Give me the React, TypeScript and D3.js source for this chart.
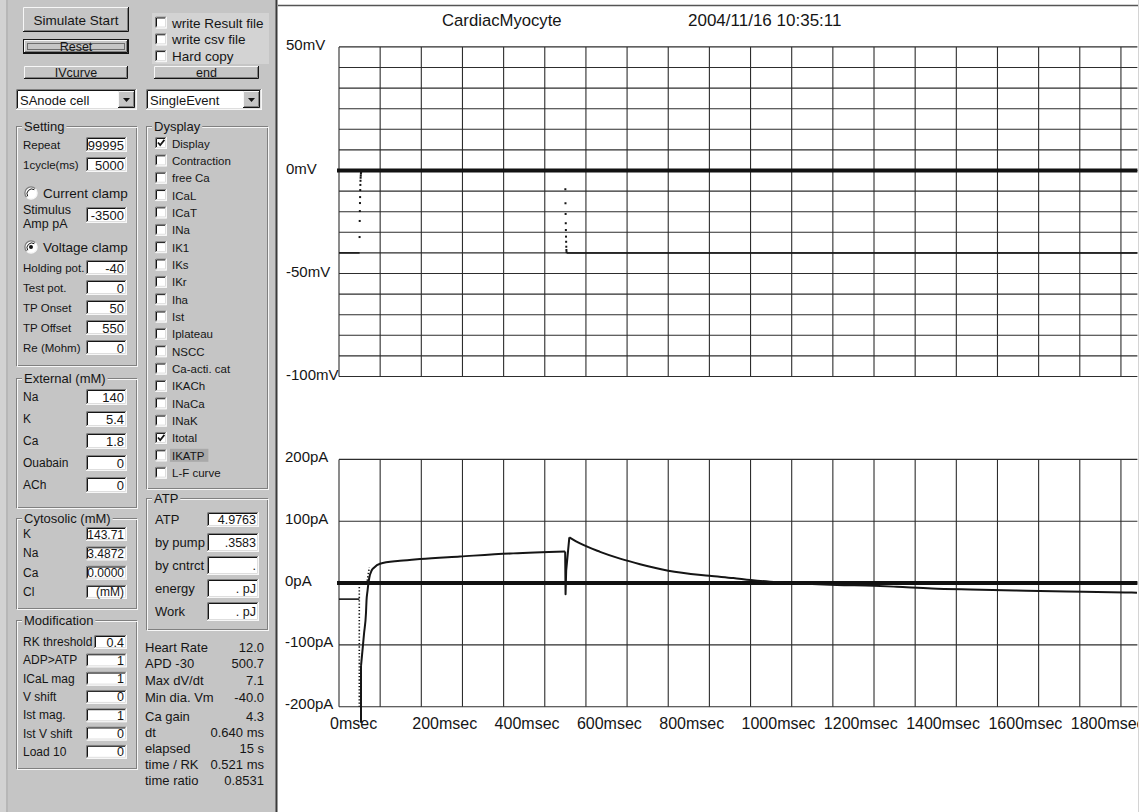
import React from "react";
import * as d3 from "d3";

const FONT = "'Liberation Sans', Arial, Helvetica, sans-serif";
const PANEL = "#c5c5c5";
const HILITE = "#f7f7f7";
const SHADE = "#808080";
const INK = "#151515";

// ---- voltage-clamp protocol ----
const holdingPotential = -40; // mV
const testPotential = 0; // mV
const pulseOnset = 50; // ms
const pulseOffset = 550; // ms
const timeStep = 0.64; // ms

// Membrane potential at successive time steps after each clamp step (mV)
const onsetVm = [-32.3, -24.5, -19.7, -15.8, -12.9, -9.5, -7, -5, -3.5, -2.5, -1.5, -1, -0.5];
const offsetVm = [-9.1, -15.9, -21.1, -25.6, -28.9, -32.1, -34.6, -37, -38.6, -39.6];

// Itotal (pA) at the holding potential
const restTime = [0, 49.5];
const restCurrent = [-26, -26];
// Fast inward transient, drawn as sampled points
const transientTime = [49.3, 49.3];
const transientCurrent = [-1, -200];
const recoveryTime = [68.8, 73.6];
const recoveryCurrent = [3.7, 25.2];
// Peak of the inward current
const spikeTime = [53.5, 53.5];
const spikeCurrent = [-226, -134];
// Recovery and slow outward current during the test pulse
const activationTime = [53.5, 58.3, 60.8, 65.6, 66.8, 69.3, 73.6, 79, 85, 99.6, 148, 197, 294, 423, 549.5];
const activationCurrent = [-134, -100, -82, -48, -29, -12.5, 8.6, 19.9, 24.8, 31.3, 36, 39, 43, 48, 51];
// Step back to the holding potential
const offsetTime = [549.5, 550.5, 552, 559.7];
const offsetCurrent = [51, -18, 20, 74];
// Tail current
const tailTime = [559.7, 585.7, 634.3, 682.9, 731.5, 800.2, 899.9, 958.2, 1000.5, 1047.4, 1096,
  1209.5, 1299.4, 1355.3, 1440.3, 1533.4, 1642.8, 1768.4, 1910.1, 1939];
const tailCurrent = [74, 64, 50.5, 39.5, 30.5, 20, 11.8, 8.1, 4.9, 2.1, 0,
  -3.2, -4.4, -6, -8.7, -10.4, -12, -13.6, -15.2, -15.7];

// ---- axes ----
const timeLabelsAt = [0, 200, 400, 600, 800, 1000, 1200, 1400, 1600, 1800];
const voltageLabels = ["50mV", "0mV", "-50mV", "-100mV"];
const voltageLabelAt = [60, 0, -50, -100];
const currentLabels = ["200pA", "100pA", "0pA", "-100pA", "-200pA"];
const currentLabelAt = [200, 100, 0, -100, -200];

// ---- control panel contents ----
const runChecks = ["write Result file", "write csv file", "Hard copy"];
const settingTop = [["Repeat", "99995"], ["1cycle(ms)", "5000"]];
const clampRows = [
  ["Holding pot.", String(holdingPotential)],
  ["Test pot.", String(testPotential)],
  ["TP Onset", String(pulseOnset)],
  ["TP Offset", String(pulseOffset)],
  ["Re (Mohm)", "0"],
];
const externalRows = [["Na", "140"], ["K", "5.4"], ["Ca", "1.8"], ["Ouabain", "0"], ["ACh", "0"]];
const cytosolicRows = [["K", "143.71"], ["Na", "3.4872"], ["Ca", "0.0000"], ["Cl", "(mM)"]];
const modificationRows = [["RK threshold", "0.4"], ["ADP>ATP", "1"], ["ICaL mag", "1"], ["V shift", "0"],
  ["Ist mag.", "1"], ["Ist V shift", "0"], ["Load 10", "0"]];
const displayItems = ["Display", "Contraction", "free Ca", "ICaL", "ICaT", "INa", "IK1", "IKs", "IKr", "Iha",
  "Ist", "Iplateau", "NSCC", "Ca-acti. cat", "IKACh", "INaCa", "INaK", "Itotal", "IKATP", "L-F curve"];
const displayChecked = ["Display", "Itotal"];
const displaySelected = "IKATP";
const atpRows = [["by pump", ".3583"], ["by cntrct", "."], ["energy", ". pJ"], ["Work", ". pJ"]];
const statsA = [["Heart Rate", "12.0"], ["APD -30", "500.7"], ["Max dV/dt", "7.1"], ["Min dia. Vm", "-40.0"]];
const statsB = [["Ca gain", "4.3"], ["dt", timeStep.toFixed(3) + " ms"], ["elapsed", "15 s"],
  ["time / RK", "0.521 ms"], ["time ratio", "0.8531"]];

let measureCtx: CanvasRenderingContext2D | null = null;
function textWidth(s: string, size: number) {
  if (!measureCtx && typeof document !== "undefined") {
    measureCtx = document.createElement("canvas").getContext("2d");
  }
  if (!measureCtx) return s.length * size * 0.55;
  measureCtx.font = `${size}px ${FONT}`;
  return measureCtx.measureText(s).width;
}

function Raised({ x, y, w, h }: { x: number; y: number; w: number; h: number }) {
  return (
    <g>
      <rect x={x} y={y} width={w} height={h} fill={PANEL} />
      <path d={`M${x + 0.5} ${y + h - 1} V${y + 0.5} H${x + w - 1}`} stroke={HILITE} fill="none" />
      <path d={`M${x} ${y + h - 0.5} H${x + w - 0.5} V${y}`} stroke={INK} fill="none" />
      <path d={`M${x + 1} ${y + h - 1.5} H${x + w - 1.5} V${y + 1}`} stroke={SHADE} fill="none" />
    </g>
  );
}

function Sunken({ x, y, w, h, fill = "#fff" }: { x: number; y: number; w: number; h: number; fill?: string }) {
  return (
    <g>
      <rect x={x} y={y} width={w} height={h} fill={fill} />
      <path d={`M${x + 0.5} ${y + h} V${y + 0.5} H${x + w}`} stroke={SHADE} fill="none" />
      <path d={`M${x + 1.5} ${y + h - 1} V${y + 1.5} H${x + w - 1}`} stroke={INK} fill="none" />
      <path d={`M${x} ${y + h - 0.5} H${x + w - 0.5} V${y}`} stroke={HILITE} fill="none" />
      <path d={`M${x + 1} ${y + h - 1.5} H${x + w - 1.5} V${y + 1}`} stroke="#dedede" fill="none" />
    </g>
  );
}

function Field({ x, y, w, h, text, size = 12.5 }: { x: number; y: number; w: number; h: number; text: string; size?: number }) {
  return (
    <g>
      <Sunken x={x} y={y} w={w} h={h} />
      <text x={x + w - 3} y={y + h / 2 + 0.5} textAnchor="end" dominantBaseline="central" fontSize={size} fill={INK}>
        {text}
      </text>
    </g>
  );
}

function Button({ x, y, w, h, label, size = 13, isDefault = false }: {
  x: number; y: number; w: number; h: number; label: string; size?: number; isDefault?: boolean;
}) {
  return (
    <g>
      {isDefault && <rect x={x - 0.5} y={y - 0.5} width={w + 1} height={h + 1} fill="none" stroke={INK} />}
      <Raised x={x} y={y} w={w} h={h} />
      <text x={x + w / 2} y={y + h / 2 + 0.5} textAnchor="middle" dominantBaseline="central" fontSize={size} fill={INK}>
        {label}
      </text>
      {isDefault && (
        <rect x={x + 3.5} y={y + 3.5} width={w - 7} height={h - 7} fill="none" stroke={INK} strokeDasharray="1 1" />
      )}
    </g>
  );
}

function CheckBox({ x, cy, label, checked = false, size = 11.5, selected = false }: {
  x: number; cy: number; label: string; checked?: boolean; size?: number; selected?: boolean;
}) {
  const y = cy - 6;
  const tw = textWidth(label, size);
  return (
    <g>
      {selected && <rect x={x + 15} y={cy - 6.5} width={tw + 6} height={13} fill="#a9a9a9" />}
      <Sunken x={x} y={y} w={12} h={12} />
      {checked && (
        <path d={`M${x + 3} ${y + 5.5} l2.2 2.6 l4.2 -5.2`} stroke={INK} strokeWidth={1.7} fill="none" />
      )}
      <text x={x + 17} y={cy + 0.5} dominantBaseline="central" fontSize={size} fill={INK}>
        {label}
      </text>
    </g>
  );
}

function Radio({ cx, cy, label, on }: { cx: number; cy: number; label: string; on: boolean }) {
  const r = 6;
  return (
    <g>
      <circle cx={cx} cy={cy} r={r} fill="#fff" />
      <path d={`M${cx + r * 0.72} ${cy - r * 0.72} A${r} ${r} 0 0 0 ${cx - r * 0.72} ${cy + r * 0.72}`} stroke={SHADE} strokeWidth={1.3} fill="none" />
      <path d={`M${cx + r * 0.55} ${cy - r * 0.55} A${r - 1.2} ${r - 1.2} 0 0 0 ${cx - r * 0.55} ${cy + r * 0.55}`} stroke={INK} strokeWidth={1} fill="none" />
      <path d={`M${cx + r * 0.72} ${cy - r * 0.72} A${r} ${r} 0 0 1 ${cx - r * 0.72} ${cy + r * 0.72}`} stroke={HILITE} strokeWidth={1.3} fill="none" />
      {on && <circle cx={cx} cy={cy} r={2} fill={INK} />}
      <text x={cx + 12} y={cy + 0.5} dominantBaseline="central" fontSize={13.5} fill={INK}>
        {label}
      </text>
    </g>
  );
}

function Combo({ x, y, w, h, text }: { x: number; y: number; w: number; h: number; text: string }) {
  const bx = x + w - 19;
  return (
    <g>
      <Sunken x={x} y={y} w={w} h={h} />
      <text x={x + 4} y={y + h / 2 + 0.5} dominantBaseline="central" fontSize={13} fill={INK}>
        {text}
      </text>
      <Raised x={bx} y={y + 2} w={17} h={h - 4} />
      <path d={`M${bx + 5} ${y + h / 2 - 1.5} h7 l-3.5 4 z`} fill={INK} />
    </g>
  );
}

function Group({ x, y, w, h, label }: { x: number; y: number; w: number; h: number; label: string }) {
  const tw = textWidth(label, 13);
  return (
    <g>
      <rect x={x + 0.5} y={y + 0.5} width={w - 1} height={h - 1} fill="none" stroke={SHADE} />
      <rect x={x + 1.5} y={y + 1.5} width={w - 1} height={h - 1} fill="none" stroke={HILITE} />
      <rect x={x + 6} y={y - 6} width={tw + 4} height={13} fill={PANEL} />
      <text x={x + 8} y={y + 0.5} dominantBaseline="central" fontSize={13} fill={INK}>
        {label}
      </text>
    </g>
  );
}

function LabelledRows({ rows, x, top, step, fieldX, fieldW, fieldH, size = 12, valueSize = 12.5 }: {
  rows: string[][]; x: number; top: number; step: number; fieldX: number; fieldW: number; fieldH: number;
  size?: number; valueSize?: number;
}) {
  return (
    <g>
      {rows.map(([label, value], i) => {
        const y = top + i * step;
        return (
          <g key={label + i}>
            <text x={x} y={y + fieldH / 2} dominantBaseline="central" fontSize={size} fill={INK}>
              {label}
            </text>
            <Field x={fieldX} y={y} w={fieldW} h={fieldH} text={value} size={valueSize} />
          </g>
        );
      })}
    </g>
  );
}

function ControlPanel() {
  const lx = 16;
  const lw = 121;
  const rx = 146;
  const rw = 122;
  return (
    <g fontFamily={FONT}>
      <rect x={0} y={0} width={277} height={812} fill={PANEL} />
      <rect x={0} y={0} width={6} height={812} fill="#d2d2d2" />
      <line x1={7} y1={0} x2={7} y2={812} stroke="#a9a9a9" />

      <Button x={23} y={7} w={106} h={25} label="Simulate Start" size={13.5} />
      <Button x={24} y={40} w={104} h={13} label="Reset" size={12.5} isDefault />
      <Button x={24} y={66} w={104} h={13} label="IVcurve" size={12.5} />

      <rect x={152} y={13} width={117} height={51} fill="#d3d3d3" />
      {runChecks.map((label, i) => (
        <CheckBox key={label} x={155} cy={22.5 + i * 16.8} label={label} size={13.5} />
      ))}
      <Button x={154} y={66} w={105} h={13} label="end" size={12.5} />

      <Combo x={16} y={89} w={121} h={21} text="SAnode cell" />
      <Combo x={146} y={89} w={116} h={21} text="SingleEvent" />

      {/* Setting */}
      <Group x={lx} y={126} w={lw} h={240} label="Setting" />
      <LabelledRows rows={settingTop} x={23} top={137} step={20} fieldX={86} fieldW={41} fieldH={15} size={11.5} valueSize={13} />
      <Radio cx={31} cy={193} label="Current clamp" on={false} />
      <text x={23} y={210} dominantBaseline="central" fontSize={12.5} fill={INK}>Stimulus</text>
      <text x={23} y={224} dominantBaseline="central" fontSize={12.5} fill={INK}>Amp pA</text>
      <Field x={86} y={207} w={41} h={16} text="-3500" size={13} />
      <Radio cx={31} cy={247} label="Voltage clamp" on={true} />
      <LabelledRows rows={clampRows} x={23} top={260} step={20} fieldX={86} fieldW={41} fieldH={15} size={11.5} valueSize={13} />

      {/* External */}
      <Group x={lx} y={378} w={lw} h={130} label="External (mM)" />
      <LabelledRows rows={externalRows} x={23} top={389} step={22} fieldX={86} fieldW={41} fieldH={16} size={12} valueSize={13} />

      {/* Cytosolic */}
      <Group x={lx} y={518} w={lw} h={91} label="Cytosolic (mM)" />
      <LabelledRows rows={cytosolicRows} x={23} top={527} step={19.3} fieldX={86} fieldW={41} fieldH={14} size={12} valueSize={12} />

      {/* Modification */}
      <Group x={lx} y={620} w={lw} h={149} label="Modification" />
      <LabelledRows rows={modificationRows.slice(0, 1)} x={23} top={635} step={18.3} fieldX={94} fieldW={33} fieldH={14} size={12} valueSize={12.5} />
      <LabelledRows rows={modificationRows.slice(1)} x={23} top={653.3} step={18.3} fieldX={86} fieldW={41} fieldH={14} size={12} valueSize={12.5} />

      {/* Display selection */}
      <Group x={rx} y={126} w={rw} h={363} label="Dysplay" />
      {displayItems.map((label, i) => (
        <CheckBox
          key={label}
          x={155}
          cy={143 + i * 17.35}
          label={label}
          checked={displayChecked.includes(label)}
          selected={label === displaySelected}
        />
      ))}

      {/* ATP */}
      <Group x={rx} y={498} w={rw} h={132} label="ATP" />
      <text x={155} y={519} dominantBaseline="central" fontSize={13} fill={INK}>ATP</text>
      <Field x={207} y={512} w={52} h={15} text="4.9763" size={12.5} />
      <LabelledRows rows={atpRows} x={155} top={533} step={23} fieldX={207} fieldW={52} fieldH={19} size={13} valueSize={12.5} />

      {/* Run statistics */}
      {[statsA, statsB].map((rows, g) =>
        rows.map(([label, value], i) => {
          const y = (g === 0 ? 647 : 716) + i * (g === 0 ? 16.7 : 16.2);
          return (
            <g key={label}>
              <text x={145} y={y} dominantBaseline="central" fontSize={13} fill={INK}>{label}</text>
              <text x={264} y={y} dominantBaseline="central" textAnchor="end" fontSize={13} fill={INK}>{value}</text>
            </g>
          );
        })
      )}
    </g>
  );
}

function Traces() {
  const x = d3.scaleLinear().domain([0, 1940]).range([339, 1137.4]);
  const yV = d3.scaleLinear().domain([-100, 60]).range([376.5, 46.9]);
  const yI = d3.scaleLinear().domain([-200, 200]).range([706.7, 459.4]);

  const gridT = d3.range(0, 1901, 100);
  const gridV = d3.range(-100, 61, 10);
  const gridI = d3.range(-200, 201, 100);

  const vLine = d3.line<[number, number]>().x((d) => x(d[0])).y((d) => yV(d[1]));
  const iLine = d3.line<[number, number]>().x((d) => x(d[0])).y((d) => yI(d[1]));
  const iCurve = d3.line<[number, number]>().x((d) => x(d[0])).y((d) => yI(d[1])).curve(d3.curveMonotoneX);
  const zip = (t: number[], v: number[]) => t.map((ti, i) => [ti, v[i]] as [number, number]);

  const onsetDots = onsetVm.map((v, i) => [pulseOnset + i * timeStep * 0.5, v] as [number, number]);
  const offsetDots = offsetVm.map((v, i) => [pulseOffset + i * timeStep * 0.5, v] as [number, number]);
  const offsetEnd = pulseOffset + offsetVm.length * timeStep * 0.5;

  const [x0, x1] = x.range();
  const gridStroke = "#2d2d2d";
  const trace = { stroke: INK, strokeWidth: 2, fill: "none", strokeLinejoin: "round" as const };

  return (
    <g fontFamily={FONT}>
      {/* membrane potential panel */}
      {gridV.map((v) => (
        <line key={"v" + v} x1={x0} x2={x1} y1={yV(v)} y2={yV(v)} stroke={gridStroke} strokeWidth={1.1} />
      ))}
      {gridT.map((t) => (
        <line key={"tv" + t} x1={x(t)} x2={x(t)} y1={yV(60)} y2={yV(-100)} stroke={gridStroke} strokeWidth={1.1} />
      ))}
      <line x1={x0 - 2} x2={x1} y1={yV(0)} y2={yV(0)} stroke="#111" strokeWidth={4} />
      {voltageLabels.map((s, i) => (
        <text key={s} x={286} y={yV(voltageLabelAt[i]) - 2} dominantBaseline="central" fontSize={15} fill={INK}>
          {s}
        </text>
      ))}
      <path d={vLine([[0, holdingPotential], [pulseOnset, holdingPotential]]) || ""} stroke={INK} strokeWidth={1.5} fill="none" />
      <path d={vLine([[pulseOnset, testPotential], [pulseOffset, testPotential]]) || ""} stroke={INK} strokeWidth={1.5} fill="none" />
      <path d={vLine([[offsetEnd, holdingPotential], [1940, holdingPotential]]) || ""} stroke={INK} strokeWidth={1.5} fill="none" />
      {[...onsetDots, ...offsetDots].map(([t, v], i) => (
        <rect key={"d" + i} x={x(t) - 1} y={yV(v) - 1} width={2} height={2} fill={INK} />
      ))}

      {/* membrane current panel */}
      {gridI.map((v) => (
        <line key={"i" + v} x1={x0} x2={x1} y1={yI(v)} y2={yI(v)} stroke={gridStroke} strokeWidth={1.1} />
      ))}
      {gridT.map((t) => (
        <line key={"ti" + t} x1={x(t)} x2={x(t)} y1={yI(200)} y2={yI(-200)} stroke={gridStroke} strokeWidth={1.1} />
      ))}
      <line x1={x0 - 2} x2={x1} y1={yI(0)} y2={yI(0)} stroke="#111" strokeWidth={4} />
      {currentLabels.map((s, i) => (
        <text key={s} x={285} y={yI(currentLabelAt[i]) - 3} dominantBaseline="central" fontSize={15} fill={INK}>
          {s}
        </text>
      ))}
      <path d={iLine(zip(restTime, restCurrent)) || ""} {...trace} strokeWidth={1.6} />
      <path d={iLine(zip(transientTime, transientCurrent)) || ""} stroke={INK} strokeWidth={1.6} strokeDasharray="1.3 2" fill="none" />
      <path d={iLine(zip(recoveryTime, recoveryCurrent)) || ""} stroke={INK} strokeWidth={1.6} strokeDasharray="1.3 2" fill="none" />
      <path d={iLine(zip(spikeTime, spikeCurrent)) || ""} {...trace} />
      <path d={iCurve(zip(activationTime, activationCurrent)) || ""} {...trace} />
      <path d={iLine(zip(offsetTime, offsetCurrent)) || ""} {...trace} />
      <path d={iCurve(zip(tailTime, tailCurrent)) || ""} {...trace} />

      {/* time axis */}
      {timeLabelsAt.map((t) => (
        <text key={"tl" + t} x={x(t) - 9} y={729} fontSize={16} fill={INK}>
          {`${t}msec`}
        </text>
      ))}
    </g>
  );
}

export default function App() {
  return (
    <svg
      width={1144}
      height={812}
      viewBox="0 0 1144 812"
      style={{ position: "absolute", left: 0, top: 0, display: "block" }}
    >
      <defs>
        <clipPath id="chartArea">
          <rect x={278} y={0} width={860} height={812} />
        </clipPath>
      </defs>
      <rect x={0} y={0} width={1144} height={812} fill="#fff" />
      <ControlPanel />
      <line x1={276.5} y1={0} x2={276.5} y2={812} stroke="#3a3a3a" strokeWidth={2} />
      <line x1={278} y1={5.5} x2={1138} y2={5.5} stroke="#555" strokeWidth={1.5} />
      <line x1={1138.5} y1={0} x2={1138.5} y2={812} stroke="#d4d4d4" />
      <g fontFamily={FONT}>
        <text x={442} y={26} fontSize={16.7} fill={INK}>CardiacMyocyte</text>
        <text x={688} y={26} fontSize={17} fill={INK}>2004/11/16 10:35:11</text>
      </g>
      <g clipPath="url(#chartArea)">
        <Traces />
      </g>
    </svg>
  );
}
